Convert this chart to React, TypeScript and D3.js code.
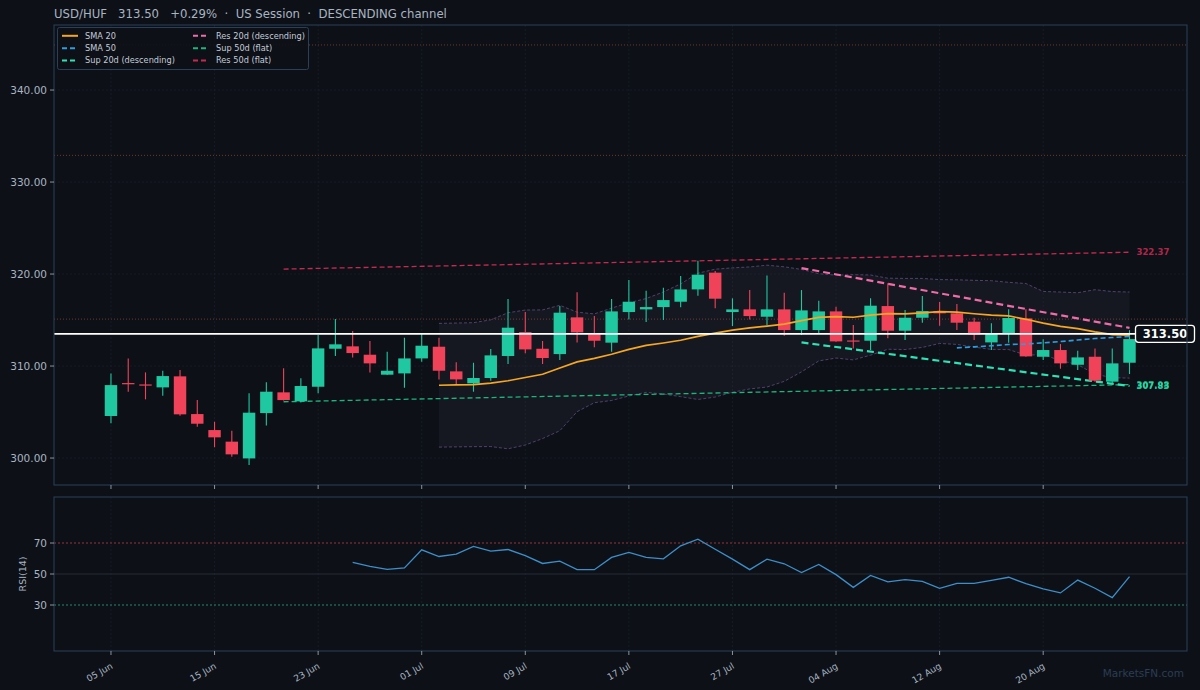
import React from 'react';
import * as d3 from 'd3';

// ---- data ----
const opens = [304.57, 308.15, 308.0, 307.68, 308.88, 304.78, 303.04, 301.78, 299.96, 304.89,
  307.14, 306.16, 307.75, 311.88, 312.14, 311.23, 309.06, 309.2, 310.83, 312.1,
  309.42, 308.12, 308.7, 311.09, 313.7, 311.88, 311.3, 315.29, 313.44, 312.54,
  315.87, 316.16, 316.41, 316.99, 318.33, 320.15, 315.87, 316.16, 315.36, 316.16,
  313.91, 313.91, 315.94, 312.78, 312.75, 316.52, 313.84, 315.25, 315.98, 315.73,
  314.82, 312.57, 313.55, 315.18, 311.01, 311.74, 310.14, 311.01, 308.3, 310.36];
const highs = [309.2, 310.83, 309.31, 309.49, 309.57, 306.3, 303.95, 302.97, 307.03, 308.23,
  309.75, 308.66, 313.37, 315.11, 313.8, 312.72, 311.56, 313.08, 313.55, 313.08,
  310.4, 310.36, 311.85, 317.28, 315.87, 312.72, 316.52, 318.01, 315.43, 317.28,
  319.35, 318.19, 318.51, 319.78, 321.45, 320.33, 317.36, 318.26, 319.85, 317.97,
  318.26, 317.1, 316.45, 314.46, 317.36, 318.99, 316.09, 317.61, 316.96, 316.74,
  315.25, 314.64, 316.16, 316.16, 312.9, 312.39, 311.67, 311.92, 311.92, 313.9];
const lows = [303.77, 307.21, 306.38, 306.78, 304.6, 303.4, 301.16, 300.15, 299.24, 303.55,
  306.25, 306.05, 307.03, 311.09, 310.94, 309.31, 309.02, 307.65, 310.47, 308.55,
  308.04, 307.21, 308.41, 310.22, 311.38, 310.22, 310.65, 312.57, 312.03, 311.56,
  315.07, 314.78, 315.0, 316.38, 317.65, 316.27, 314.35, 315.07, 314.46, 313.3,
  313.37, 313.55, 312.65, 311.92, 311.74, 313.01, 312.83, 314.71, 314.39, 313.91,
  312.83, 311.74, 312.54, 311.01, 310.65, 309.71, 309.56, 308.3, 308.12, 309.13];
const closes = [307.93, 308.05, 307.95, 308.91, 304.75, 303.73, 302.25, 300.4, 304.93, 307.21,
  306.3, 307.83, 311.92, 312.36, 311.41, 310.29, 309.49, 310.83, 312.21, 309.49,
  308.55, 308.7, 311.16, 314.17, 311.81, 310.87, 315.8, 313.66, 312.75, 315.94,
  316.99, 316.41, 317.17, 318.33, 319.93, 317.32, 316.16, 315.43, 316.16, 313.91,
  316.05, 315.94, 312.68, 312.72, 316.56, 313.84, 315.25, 315.98, 315.73, 314.71,
  313.44, 313.55, 315.22, 311.05, 311.74, 310.29, 310.94, 308.41, 310.29, 312.93];

const tickIndex = [0, 6, 12, 18, 24, 30, 36, 42, 48, 54];
const tickLabels = ['05 Jun', '15 Jun', '23 Jun', '01 Jul', '09 Jul', '17 Jul', '27 Jul', '04 Aug', '12 Aug', '20 Aug'];
const priceTicks = [300, 310, 320, 330, 340];
const rsiTicks = [30, 50, 70];

const rsiStart = 14;
const rsiValues = [57.5, 54.9, 53.0, 53.9, 65.6, 61.3, 62.8, 67.8, 64.8, 65.8, 61.8, 56.8, 58.3, 52.8, 52.8,
  60.7, 63.9, 60.7, 59.8, 68.2, 72.5, 66.0, 59.6, 52.8, 59.6, 56.6, 50.9, 56.2, 49.6, 41.4,
  49.1, 44.9, 46.4, 45.3, 40.8, 44.0, 44.0, 45.9, 47.9, 43.8, 40.4, 37.8, 46.1, 40.8, 34.8, 48.3];

const levelLines = [344.9, 332.9, 315.1];
const lastPrice = 313.5;

const trendNames = ['Res 50d (flat)', 'Sup 50d (flat)', 'Res 20d (descending)', 'Sup 20d (descending)'];
const trendStart = [10, 10, 40, 40];
const trendEnd = [59, 59, 59, 59];
const trendFrom = [320.54, 306.12, 320.65, 312.57];
const trendTo = [322.37, 307.98, 314.15, 307.83];
const trendLabeled = [true, true, false, true];

// ---- layout ----
const W = 1200, H = 690;
const M = { l: 54, r: 1187, t: 25, b: 485 };
const R = { t: 497, b: 651 };
const BG = '#0d1117';
const FRAME = '#2a4058';
const TXT = '#a9b4c2';
const UP = '#1fc8a0';
const DOWN = '#f0435a';
const FONT = '"DejaVu Sans", Verdana, sans-serif';
const trendColors = ['#c8294f', '#1db57c', '#f06ca8', '#2de3b5'];
const trendWidths = [1.3, 1.3, 2.2, 2.2];
const trendDash = ['5,3', '5,3', '7,4', '7,4'];

function rolling(n: number, fn: (w: number[]) => number) {
  return closes.map((_, i) => (i >= n - 1 ? fn(closes.slice(i - n + 1, i + 1)) : NaN));
}

export default function App() {
  const x = d3.scaleLinear().domain([-3.3, 62.33]).range([M.l, M.r]);
  const y = d3.scaleLinear().domain([297.07, 347.07]).range([M.b, M.t]);
  const ry = d3.scaleLinear().domain([0, 100]).range([R.b + 0.5, R.t - 0.5]);
  const step = x(1) - x(0);
  const bw = step * 0.72;

  const sma20 = rolling(20, (w) => d3.mean(w) as number);
  const sma50 = rolling(50, (w) => d3.mean(w) as number);
  const sd20 = rolling(20, (w) => d3.deviation(w) as number);
  const bbIdx = closes.map((_, i) => i).filter((i) => i >= 19);

  const lineIdx = d3.line<number>().x((i) => x(i)).y((i) => y(sma20[i]));
  const sma50Path = d3.line<number>().x((i) => x(i)).y((i) => y(sma50[i]))(closes.map((_, i) => i).filter((i) => i >= 49));
  const upper = d3.line<number>().x((i) => x(i)).y((i) => y(sma20[i] + 2 * sd20[i]))(bbIdx);
  const lower = d3.line<number>().x((i) => x(i)).y((i) => y(sma20[i] - 2 * sd20[i]))(bbIdx);
  const bbArea = d3.area<number>().x((i) => x(i)).y0((i) => y(sma20[i] - 2 * sd20[i])).y1((i) => y(sma20[i] + 2 * sd20[i]))(bbIdx);
  const rsiPath = d3.line<number>().x((_, k) => x(rsiStart + k)).y((v) => ry(v))(rsiValues);

  const legend = [
    { label: 'SMA 20', color: '#f5a623', dash: '', col: 0, row: 0 },
    { label: 'SMA 50', color: '#2f9be0', dash: '5,3', col: 0, row: 1 },
    { label: 'Sup 20d (descending)', color: trendColors[3], dash: '5,3', col: 0, row: 2 },
    { label: 'Res 20d (descending)', color: trendColors[2], dash: '5,3', col: 1, row: 0 },
    { label: 'Sup 50d (flat)', color: trendColors[1], dash: '5,3', col: 1, row: 1 },
    { label: 'Res 50d (flat)', color: trendColors[0], dash: '5,3', col: 1, row: 2 },
  ];

  return (
    <svg width={W} height={H} viewBox={`0 0 ${W} ${H}`} style={{ position: 'absolute', left: 0, top: 0, display: 'block' }} fontFamily={FONT}>
      <rect x={0} y={0} width={W} height={H} fill={BG} />
      <text x={54} y={18} fontSize={11.7} fill={TXT} style={{ whiteSpace: 'pre' }} xmlSpace="preserve">{'USD/HUF   313.50   +0.29%  ·  US Session  ·  DESCENDING channel'}</text>

      <defs>
        <clipPath id="mainClip"><rect x={M.l} y={M.t} width={M.r - M.l} height={M.b - M.t} /></clipPath>
      </defs>

      {/* grids */}
      {tickIndex.map((t) => (
        <g key={'g' + t}>
          <line x1={x(t)} x2={x(t)} y1={M.t} y2={M.b} stroke="#1a212c" strokeWidth={0.7} strokeDasharray="2,2" />
          <line x1={x(t)} x2={x(t)} y1={R.t} y2={R.b} stroke="#1a212c" strokeWidth={0.7} strokeDasharray="2,2" />
        </g>
      ))}
      {priceTicks.map((p) => (
        <line key={'hg' + p} x1={M.l} x2={M.r} y1={y(p)} y2={y(p)} stroke="#1a212c" strokeWidth={0.7} strokeDasharray="2,2" />
      ))}

      <g clipPath="url(#mainClip)">
        {levelLines.map((v) => (
          <line key={'lv' + v} x1={M.l} x2={M.r} y1={y(v)} y2={y(v)} stroke="#7a3a2c" strokeWidth={0.9} strokeDasharray="1,2" />
        ))}
        {/* Bollinger */}
        <path d={bbArea || ''} fill="#b4a0dc" fillOpacity={0.05} />
        <path d={upper || ''} fill="none" stroke="#5e4d80" strokeWidth={0.8} strokeDasharray="3,2" />
        <path d={lower || ''} fill="none" stroke="#5e4d80" strokeWidth={0.8} strokeDasharray="3,2" />

        {/* trend lines */}
        {trendNames.map((n, k) => (
          <line key={n} x1={x(trendStart[k])} x2={x(trendEnd[k])} y1={y(trendFrom[k])} y2={y(trendTo[k])}
            stroke={trendColors[k]} strokeWidth={trendWidths[k]} strokeDasharray={trendDash[k]} />
        ))}

        {/* candles */}
        {closes.map((c, i) => {
          const o = opens[i];
          const col = c >= o ? UP : DOWN;
          const top = y(Math.max(o, c));
          const bot = y(Math.min(o, c));
          return (
            <g key={'c' + i}>
              <line x1={x(i)} x2={x(i)} y1={y(highs[i])} y2={y(lows[i])} stroke={col} strokeWidth={1.1} />
              <rect x={x(i) - bw / 2} y={top} width={bw} height={Math.max(1.2, bot - top)} fill={col} />
            </g>
          );
        })}

        <path d={lineIdx(closes.map((_, i) => i).filter((i) => i >= 19)) || ''} fill="none" stroke="#f5a623" strokeWidth={1.7} />
        <path d={sma50Path || ''} fill="none" stroke="#2f9be0" strokeWidth={1.6} strokeDasharray="5,3" />

        <line x1={M.l} x2={M.r} y1={y(lastPrice)} y2={y(lastPrice)} stroke="#ffffff" strokeWidth={1.7} />
      </g>

      {/* trend end labels */}
      {trendNames.map((n, k) => trendLabeled[k] ? (
        <text key={'tl' + n} x={x(trendEnd[k]) + 7} y={y(trendTo[k])} dy="0.35em" fontSize={8.5} fontWeight="bold" fill={trendColors[k]} fillOpacity={0.9}>
          {trendTo[k].toFixed(2)}
        </text>
      ) : null)}

      {/* last price box */}
      <rect x={1135.5} y={y(lastPrice) - 8.5} width={59} height={17} rx={3} fill={BG} stroke="#ffffff" strokeWidth={1.3} />
      <text x={1165} y={y(lastPrice)} dy="0.36em" textAnchor="middle" fontSize={11.5} fontWeight="bold" fill="#ffffff">{lastPrice.toFixed(2)}</text>

      {/* main frame */}
      <rect x={M.l} y={M.t} width={M.r - M.l} height={M.b - M.t} fill="none" stroke={FRAME} strokeWidth={1} />
      {priceTicks.map((p) => (
        <g key={'pt' + p}>
          <line x1={M.l - 4} x2={M.l} y1={y(p)} y2={y(p)} stroke={TXT} strokeWidth={0.8} />
          <text x={M.l - 7} y={y(p)} dy="0.35em" textAnchor="end" fontSize={10.5} fill={TXT}>{p.toFixed(2)}</text>
        </g>
      ))}
      {tickIndex.map((t) => (
        <line key={'mt' + t} x1={x(t)} x2={x(t)} y1={M.b} y2={M.b + 4} stroke={TXT} strokeWidth={0.8} />
      ))}

      {/* legend */}
      <g>
        <rect x={57.5} y={27.5} width={251} height={42} rx={2} fill={BG} fillOpacity={0.9} stroke={FRAME} strokeWidth={1} />
        {legend.map((e) => {
          const lx = e.col === 0 ? 62 : 193;
          const ly = 35.8 + e.row * 12.4;
          return (
            <g key={e.label}>
              <line x1={lx} x2={lx + 16} y1={ly} y2={ly} stroke={e.color} strokeWidth={2} strokeDasharray={e.dash || undefined} />
              <text x={lx + 23} y={ly} dy="0.35em" fontSize={8.2} fill="#c3ccd8">{e.label}</text>
            </g>
          );
        })}
      </g>

      {/* RSI panel */}
      <line x1={M.l} x2={M.r} y1={ry(50)} y2={ry(50)} stroke="#262c36" strokeWidth={1} />
      <line x1={M.l} x2={M.r} y1={ry(70)} y2={ry(70)} stroke="#a8383a" strokeWidth={0.9} strokeDasharray="2,2" />
      <line x1={M.l} x2={M.r} y1={ry(30)} y2={ry(30)} stroke="#1f9a78" strokeWidth={0.9} strokeDasharray="2,2" />
      <path d={rsiPath || ''} fill="none" stroke="#3d8ec9" strokeWidth={1.3} />
      <rect x={M.l} y={R.t} width={M.r - M.l} height={R.b - R.t} fill="none" stroke={FRAME} strokeWidth={1} />
      {rsiTicks.map((v) => (
        <g key={'rt' + v}>
          <line x1={M.l - 4} x2={M.l} y1={ry(v)} y2={ry(v)} stroke={TXT} strokeWidth={0.8} />
          <text x={M.l - 7} y={ry(v)} dy="0.35em" textAnchor="end" fontSize={10.5} fill={TXT}>{v}</text>
        </g>
      ))}
      <text transform={`translate(26, ${ry(50)}) rotate(-90)`} textAnchor="middle" fontSize={9.5} fill={TXT}>RSI(14)</text>
      {tickIndex.map((t, k) => (
        <g key={'xt' + t}>
          <line x1={x(t)} x2={x(t)} y1={R.b} y2={R.b + 4} stroke={TXT} strokeWidth={0.8} />
          <text transform={`translate(${x(t) - 1}, ${R.b + 11}) rotate(-30)`} textAnchor="end" dy="0.75em" fontSize={9} fill={TXT}>{tickLabels[k]}</text>
        </g>
      ))}

      <text x={1184} y={677} textAnchor="end" fontSize={10.5} fill="#2a3d55">MarketsFN.com</text>
    </svg>
  );
}
